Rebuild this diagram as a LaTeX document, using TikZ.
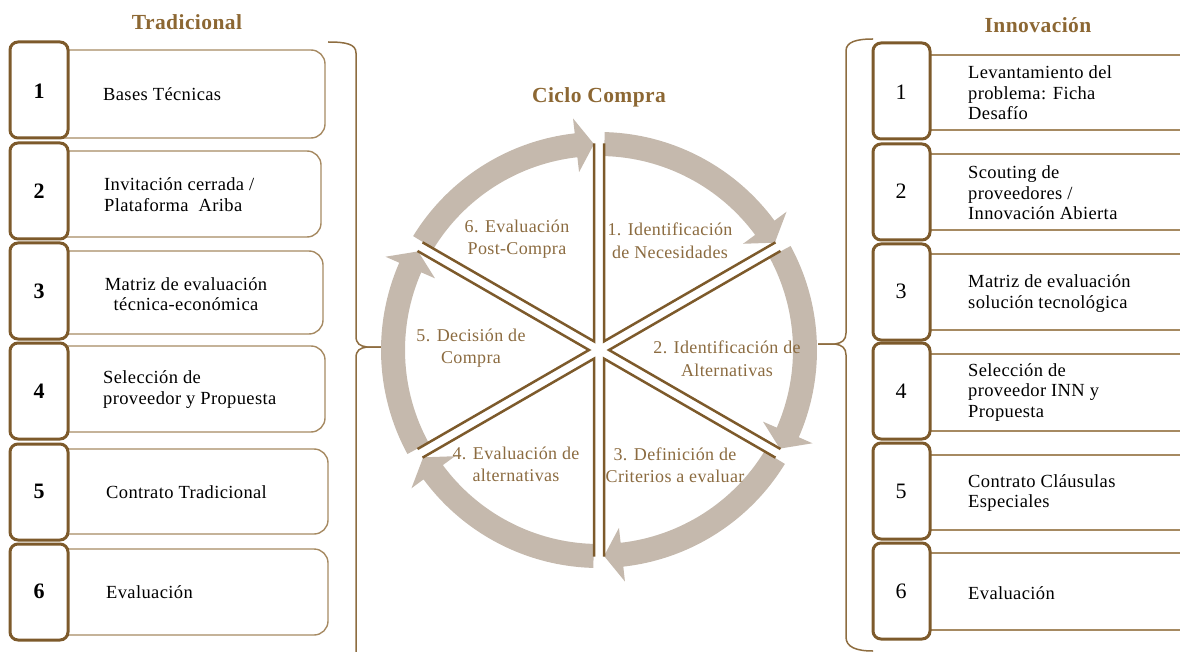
\documentclass[tikz,border=0pt]{standalone}
\usepackage{fontspec}
\setmainfont{Liberation Serif}[LetterSpace=2]
\definecolor{brownD}{HTML}{7D5A2B}
\definecolor{brownL}{HTML}{A68A62}
\definecolor{brownB}{HTML}{8E6D40}
\definecolor{titlec}{HTML}{8C6733}
\definecolor{labelc}{HTML}{8B6B40}
\definecolor{arrowc}{HTML}{C5B9AD}
\newcommand\cycarrow[2]{% #1 start angle, #2 tip angle, running clockwise
  \pgfmathsetmacro\hb{#2+5}
  \fill[arrowc] (#1:218) arc[start angle=#1, end angle=\hb, radius=218]
    -- (\hb:233) -- (#2:206) -- (\hb:179) -- (\hb:194)
    arc[start angle=\hb, end angle=#1, radius=194] -- cycle;}
\begin{document}
\begin{tikzpicture}[x=1pt,y=-1pt,
  numbox/.style={draw=brownD, line width=3pt, fill=white, rounded corners=8pt},
  txtbox/.style={draw=brownL, line width=1.4pt, rounded corners=14pt},
  rtxtbox/.style={draw=brownL, line width=1.4pt},
  body/.style={font=\fontsize{18.5}{20.5}\selectfont, text=black, align=left, inner sep=0pt, anchor=west},
  bodyc/.style={font=\fontsize{18.5}{20.5}\selectfont, text=black, align=center, inner sep=0pt},
  numL/.style={font=\fontsize{22}{22}\selectfont\bfseries, text=black, inner sep=0pt},
  numR/.style={font=\fontsize{22}{22}\selectfont, text=black, inner sep=0pt},
  title/.style={font=\fontsize{21.5}{21.5}\selectfont\bfseries, text=titlec, inner sep=0pt},
  cyclab/.style={font=\fontsize{18}{22.5}\selectfont, text=labelc, align=center, inner sep=0pt},
  wedge/.style={draw=brownD, line width=2.5pt},
  brace/.style={draw=brownB, line width=1.5pt}]
\useasboundingbox (0,0) rectangle (1180,652);
\clip (0,0) rectangle (1180,652);

% titles
\node[title] (tTrad) at (187,22) {Tradicional};
\node[title] (tInno) at (1038,25) {Innovación};
\node[title] (tCiclo) at (599,97) {Ciclo Compra};

% left column: text boxes, then number boxes on top
\draw[txtbox] (40,50) rectangle (325,138);
\draw[txtbox] (40,151) rectangle (321,237);
\draw[txtbox] (40,251) rectangle (323,334);
\draw[txtbox] (40,346) rectangle (325,432);
\draw[txtbox] (40,449) rectangle (328,534);
\draw[txtbox] (40,549) rectangle (328,635);
\foreach \t in {42,143,243,343,444,544}
  \draw[numbox] (10,\t) rectangle (68,\t+96);
\node[numL] (l1) at (39,91) {1};
\node[numL] (l2) at (39,191) {2};
\node[numL] (l3) at (39,291) {3};
\node[numL] (l4) at (39,391) {4};
\node[numL] (l5) at (39,491) {5};
\node[numL] (l6) at (39,591) {6};
\node[body] (lt1) at (103,94) {Bases Técnicas};
\node[body] (lt2) at (104,194.5) {Invitación cerrada /\\Plataforma\ \ Ariba};
\node[bodyc] (lt3) at (186,294) {Matriz de evaluación\\técnica-económica};
\node[body] (lt4) at (103,389.5) {Selección de\\proveedor y Propuesta};
\node[body] (lt5) at (106,492) {Contrato Tradicional};
\node[body] (lt6) at (106,592) {Evaluación};

% right column
\draw[rtxtbox] (900,55) rectangle (1200,130);
\draw[rtxtbox] (900,154) rectangle (1200,230);
\draw[rtxtbox] (900,254) rectangle (1200,330);
\draw[rtxtbox] (900,354) rectangle (1200,431);
\draw[rtxtbox] (900,455) rectangle (1200,530);
\draw[rtxtbox] (900,553) rectangle (1200,630);
\foreach \t in {43,144,244,343,443,543}
  \draw[numbox] (873,\t) rectangle (930,\t+96);
\node[numR] (r1) at (901,92) {1};
\node[numR] (r2) at (901,191) {2};
\node[numR] (r3) at (901,291) {3};
\node[numR] (r4) at (901,391) {4};
\node[numR] (r5) at (901,491) {5};
\node[numR] (r6) at (901,591) {6};
\node[body] (rt1) at (968,93) {Levantamiento del\\problema: Ficha\\Desafío};
\node[body] (rt2) at (968,193) {Scouting de\\proveedores /\\Innovación Abierta};
\node[body] (rt3) at (968,293.5) {Matriz de evaluación\\solución tecnológica};
\node[body] (rt4) at (968,392.5) {Selección de\\proveedor INN y\\Propuesta};
\node[body] (rt5) at (968,493) {Contrato Cláusulas\\Especiales};
\node[body] (rt6) at (968,593) {Evaluación};

% braces
\draw[brace] (328,42) .. controls (346,42) and (356,44) .. (356,53)
  -- (356,336) .. controls (356,344) and (360,346) .. (367,347) -- (383,347);
\draw[brace] (383,347) -- (367,347) .. controls (360,348) and (356,350) .. (356,358)
  -- (356,660);
\draw[brace] (873,39) .. controls (856,39) and (846,42) .. (846,51)
  -- (846,333) .. controls (846,340) and (842,343) .. (835,344) -- (818,344);
\draw[brace] (818,344) -- (835,344) .. controls (842,345) and (846,348) .. (846,355)
  -- (846,637) .. controls (846,647) and (856,651) .. (873,651);

% purchase cycle
\begin{scope}[shift={(599,350)}, y=1pt]
  \cycarrow{88.5}{31.4}
  \cycarrow{28.5}{-28.6}
  \cycarrow{-31.5}{-88.6}
  \cycarrow{-91.5}{-148.6}
  \cycarrow{208.5}{151.4}
  \cycarrow{148.5}{91.4}
  \foreach \a in {90,30,-30,-90,-150,150}{
    \pgfmathsetmacro\b{\a-30}
    \pgfmathsetmacro\c{\a-60}
    \draw[wedge] (\b:10) ++(\a:198) -- (\b:10) -- ++(\c:198);
  }
\end{scope}
\node[cyclab] (c6) at (517,239) {6. Evaluación\\Post-Compra};
\node[cyclab] (c1) at (670,241) {1. Identificación\\de Necesidades};
\node[cyclab] (c2) at (727,358.5) {2. Identificación de\\Alternativas};
\node[cyclab] (c5) at (471,348) {5. Decisión de\\Compra};
\node[cyclab] (c4) at (516,464.5) {4. Evaluación de\\alternativas};
\node[cyclab] (c3) at (675,465) {3. Definición de\\Criterios a evaluar};
\end{tikzpicture}
\end{document}
